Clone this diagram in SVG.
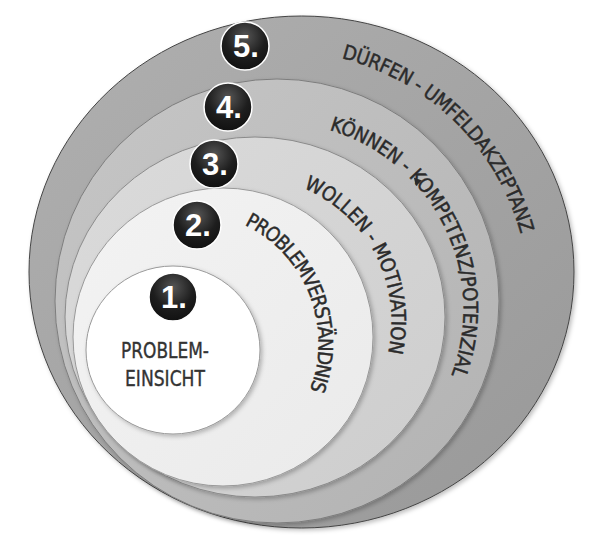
<svg xmlns="http://www.w3.org/2000/svg" xmlns:xlink="http://www.w3.org/1999/xlink" width="600" height="541" viewBox="0 0 600 541">
<style>
.arc{font-family:"DejaVu Sans Condensed","DejaVu Sans","Liberation Sans",sans-serif;font-size:20px;fill:#2b2b2b;stroke:#2b2b2b;stroke-width:0.45px;}
.lbl{font-family:"DejaVu Sans Condensed","DejaVu Sans","Liberation Sans",sans-serif;font-size:21px;fill:#333;stroke:#333;stroke-width:0.35px;text-anchor:middle;}
.num{font-family:"Liberation Sans",Arial,sans-serif;font-weight:bold;font-size:31px;fill:#fff;text-anchor:middle;}
.badge{fill:url(#gBadge);stroke:#fff;stroke-width:1.5;}
.ring{stroke-width:1;}
</style>
<defs>
<filter id="sh" x="-10%" y="-10%" width="120%" height="120%">
<feDropShadow dx="2" dy="2" stdDeviation="2" flood-color="#000" flood-opacity="0.25"/>
</filter>
<linearGradient id="g5" x1="0" y1="0" x2="1" y2="1">
<stop offset="0" stop-color="#b0b0b0"/><stop offset="1" stop-color="#989898"/>
</linearGradient>
<linearGradient id="g4" x1="0" y1="0" x2="1" y2="1">
<stop offset="0" stop-color="#c6c6c6"/><stop offset="1" stop-color="#b2b2b2"/>
</linearGradient>
<linearGradient id="g3" x1="0" y1="0" x2="1" y2="1">
<stop offset="0" stop-color="#dbdbdb"/><stop offset="1" stop-color="#cdcdcd"/>
</linearGradient>
<linearGradient id="g2" x1="0" y1="0" x2="1" y2="1">
<stop offset="0" stop-color="#f3f3f3"/><stop offset="1" stop-color="#eaeaea"/>
</linearGradient>
<radialGradient id="gBadge" cx="0.5" cy="0.3" r="0.7">
<stop offset="0" stop-color="#555"/><stop offset="0.6" stop-color="#1e1e1e"/><stop offset="1" stop-color="#111"/>
</radialGradient>
<path id="p5" d="M 341.6 58.2 A 249.5 249.5 0 0 1 525.7 256.7"/>
<path id="p4" d="M 329.35 130.0 A 186.5 186.5 0 0 1 446.0 387.8"/>
<path id="p3" d="M 303.5 188.0 A 144.5 144.5 0 0 1 382.8 370.4"/>
<path id="p2" d="M 244.6 224.8 A 131.5 131.5 0 0 1 300.9 408.75"/>
</defs>

<g id="ring5">
<ellipse class="ring" cx="301.5" cy="272" rx="272.5" ry="256" fill="url(#g5)" stroke="#444" filter="url(#sh)"/>
</g>
<g id="ring4">
<ellipse class="ring" cx="277" cy="301" rx="222" ry="222" fill="url(#g4)" stroke="#7d7d7d" filter="url(#sh)"/>
</g>
<g id="ring3">
<ellipse class="ring" cx="255" cy="317" rx="190" ry="180" fill="url(#g3)" stroke="#8a8a8a" filter="url(#sh)"/>
</g>
<g id="ring2">
<ellipse class="ring" cx="223" cy="337" rx="150" ry="149" fill="url(#g2)" stroke="#999" filter="url(#sh)"/>
</g>
<g id="ring1">
<ellipse class="ring" cx="173" cy="350" rx="87" ry="84" fill="#fff" stroke="#999" filter="url(#sh)"/>
<text class="lbl" x="165" y="358" textLength="88" lengthAdjust="spacingAndGlyphs">PROBLEM-</text>
<text class="lbl" x="165" y="386" textLength="80" lengthAdjust="spacingAndGlyphs">EINSICHT</text>
</g>

<g id="labels">
<text class="arc"><textPath xlink:href="#p5" href="#p5" textLength="263" lengthAdjust="spacing">DÜRFEN - UMFELDAKZEPTANZ</textPath></text>
<text class="arc"><textPath xlink:href="#p4" href="#p4" textLength="307" lengthAdjust="spacing">KÖNNEN - KOMPETENZ/POTENZIAL</textPath></text>
<text class="arc"><textPath xlink:href="#p3" href="#p3" textLength="201" lengthAdjust="spacing">WOLLEN - MOTIVATION</textPath></text>
<text class="arc"><textPath xlink:href="#p2" href="#p2" textLength="195" lengthAdjust="spacing">PROBLEMVERSTÄNDNIS</textPath></text>
<polygon points="413.8,177.5 422.0,180.5 416.0,185.9" fill="#2b2b2b"/>
</g>

<g id="badge5"><circle class="badge" cx="245" cy="46" r="24"/><text class="num" x="246" y="57">5.</text></g>
<g id="badge4"><circle class="badge" cx="228" cy="107" r="24"/><text class="num" x="229" y="118">4.</text></g>
<g id="badge3"><circle class="badge" cx="214" cy="164" r="24"/><text class="num" x="215" y="175">3.</text></g>
<g id="badge2"><circle class="badge" cx="197" cy="225" r="24"/><text class="num" x="198" y="236">2.</text></g>
<g id="badge1"><circle class="badge" cx="173" cy="297" r="24"/><text class="num" x="174" y="308">1.</text></g>

<g id="connectors"/>
</svg>
